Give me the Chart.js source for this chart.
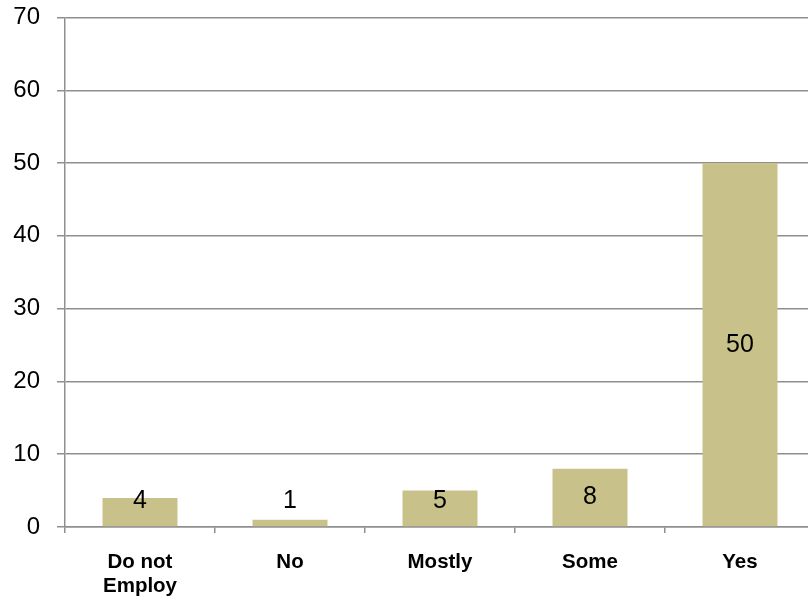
<!DOCTYPE html>
<html><head><meta charset="utf-8">
<script src="https://cdn.jsdelivr.net/npm/chart.js@4/dist/chart.umd.min.js"></script>
<style>html,body{margin:0;padding:0;overflow:hidden;background:#fff}#wrap{width:820px;height:598px;position:relative}</style>
</head><body><div id="wrap"><canvas id="c"></canvas></div>
<script>
const categories = [["Do not","Employ"], "No", "Mostly", "Some", "Yes"];
const values = [4, 1, 5, 8, 50];
const yTicks = [0, 10, 20, 30, 40, 50, 60, 70];

const GRID = '#8f8f8f';
const FONT = "'Liberation Sans', Arial, sans-serif";

const labelPlugin = {
  id: 'barLabels',
  afterDatasetsDraw(chart) {
    const ctx = chart.ctx;
    const meta = chart.getDatasetMeta(0);
    ctx.save();
    ctx.font = '25px ' + FONT;
    ctx.fillStyle = '#000';
    ctx.textAlign = 'center';
    ctx.textBaseline = 'middle';
    meta.data.forEach((bar, i) => {
      const p = bar.getProps(['x','y','base'], true);
      const y = Math.min((p.y + p.base) / 2, p.base - 25);
      ctx.fillText(String(values[i]), p.x, y);
    });
    ctx.restore();
  }
};

new Chart(document.getElementById('c'), {
  type: 'bar',
  data: {
    labels: categories,
    datasets: [{
      data: values,
      backgroundColor: '#c9c18a',
      borderWidth: 0,
      barPercentage: 0.5,
      categoryPercentage: 1.0
    }]
  },
  options: {
    responsive: true,
    maintainAspectRatio: false,
    animation: false,
    layout: { padding: { top: 0, right: 5, left: 0, bottom: 0 } },
    plugins: { legend: { display: false }, tooltip: { enabled: false } },
    scales: {
      x: {
        offset: true,
        grid: { offset: true, drawOnChartArea: false, drawTicks: true, tickLength: 6, color: GRID, lineWidth: 1.5 },
        border: { display: true, color: GRID, width: 1.5 },
        ticks: { color: '#000', padding: 18, font: { family: FONT, size: 20.5, weight: 'bold', lineHeight: 1.15 }, maxRotation: 0, autoSkip: false },
        afterFit(s) { s.height = 71; s.paddingLeft = 0; s.paddingRight = 0; }
      },
      y: {
        min: 0, max: 70,
        afterBuildTicks(s) { s.ticks = yTicks.map(v => ({ value: v })); },
        grid: { color: GRID, lineWidth: 1.5, tickLength: 8 },
        border: { display: true, color: GRID, width: 1.5 },
        ticks: { color: '#000', padding: 17, font: { family: FONT, size: 24 } },
        afterFit(s) { s.width = 65; s.paddingTop = 17.5; s.paddingBottom = 0; }
      }
    }
  },
  plugins: [labelPlugin]
});
</script></body></html>
